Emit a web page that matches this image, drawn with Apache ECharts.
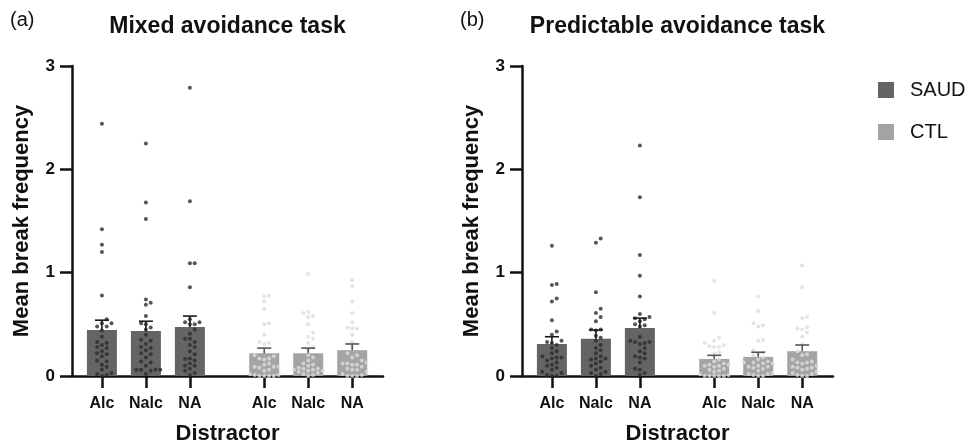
<!DOCTYPE html>
<html>
<head>
<meta charset="utf-8">
<title>Mean break frequency by distractor</title>
<script src="https://cdn.jsdelivr.net/npm/echarts@6/dist/echarts.min.js"></script>
<style>
  html, body { margin: 0; padding: 0; background: #ffffff; }
  #chart { width: 971px; height: 447px; }
</style>
</head>
<body>
<div id="chart"></div>
<script>
// ---- data ----
const distractors = ['Alc', 'Nalc', 'NA'];
const groups = ['SAUD', 'CTL'];
const panelTags = ['(a)', '(b)'];
const panelTitles = ['Mixed avoidance task', 'Predictable avoidance task'];
const yTicks = [0, 1, 2, 3];

// group means and SEM (Alc, Nalc, NA)
const mixedSaudMean = [0.445, 0.435, 0.475];
const mixedSaudSem  = [0.095, 0.095, 0.105];
const mixedCtlMean  = [0.22, 0.22, 0.25];
const mixedCtlSem   = [0.05, 0.05, 0.06];
const predSaudMean  = [0.31, 0.36, 0.465];
const predSaudSem   = [0.07, 0.085, 0.095];
const predCtlMean   = [0.165, 0.185, 0.24];
const predCtlSem    = [0.035, 0.045, 0.06];

// individual participants
const mixedSaudAlc  = [2.44, 1.42, 1.27, 1.20, 0.78, 0.55, 0.51, 0.51, 0.48, 0.48, 0.44, 0.38, 0.33, 0.32, 0.30, 0.28, 0.27, 0.24, 0.22, 0.21, 0.19, 0.15, 0.14, 0.11, 0.09, 0.06, 0.03, 0.02, 0.01, 0.00];
const mixedSaudNalc = [2.25, 1.68, 1.52, 0.74, 0.71, 0.69, 0.58, 0.51, 0.50, 0.47, 0.45, 0.40, 0.35, 0.34, 0.31, 0.28, 0.27, 0.25, 0.22, 0.21, 0.18, 0.14, 0.13, 0.10, 0.06, 0.06, 0.05, 0.06, 0.06, 0.02];
const mixedSaudNA   = [2.79, 1.69, 1.09, 1.09, 0.86, 0.55, 0.52, 0.52, 0.50, 0.50, 0.45, 0.41, 0.36, 0.36, 0.33, 0.30, 0.28, 0.24, 0.21, 0.17, 0.165, 0.15, 0.12, 0.10, 0.10, 0.07, 0.05, 0.03, 0.01];
const mixedCtlAlc   = [0.78, 0.77, 0.72, 0.65, 0.51, 0.50, 0.40, 0.33, 0.32, 0.31, 0.20, 0.19, 0.17, 0.17, 0.16, 0.12, 0.11, 0.09, 0.09, 0.09, 0.08, 0.06, 0.05, 0.02, 0.01, 0.01, 0.00, 0.00, 0.00, 0.00];
const mixedCtlNalc  = [0.99, 0.62, 0.61, 0.58, 0.57, 0.50, 0.42, 0.38, 0.36, 0.32, 0.28, 0.25, 0.20, 0.18, 0.15, 0.12, 0.11, 0.10, 0.08, 0.07, 0.07, 0.06, 0.06, 0.05, 0.05, 0.04, 0.03, 0.02, 0.01, 0.00];
const mixedCtlNA    = [0.93, 0.87, 0.72, 0.61, 0.52, 0.47, 0.46, 0.46, 0.40, 0.33, 0.28, 0.22, 0.20, 0.18, 0.15, 0.13, 0.12, 0.12, 0.11, 0.11, 0.09, 0.07, 0.06, 0.06, 0.04, 0.02, 0.01, 0.00, 0.00, 0.00];
const predSaudAlc   = [1.26, 0.89, 0.88, 0.75, 0.72, 0.54, 0.43, 0.40, 0.34, 0.33, 0.32, 0.30, 0.27, 0.24, 0.22, 0.19, 0.18, 0.18, 0.17, 0.15, 0.13, 0.11, 0.10, 0.08, 0.06, 0.04, 0.03, 0.01, 0.00, 0.00];
const predSaudNalc  = [1.33, 1.29, 0.81, 0.65, 0.61, 0.57, 0.53, 0.45, 0.45, 0.44, 0.39, 0.37, 0.34, 0.30, 0.27, 0.25, 0.22, 0.19, 0.17, 0.17, 0.16, 0.14, 0.12, 0.10, 0.08, 0.06, 0.04, 0.03, 0.02, 0.00];
const predSaudNA    = [2.23, 1.73, 1.17, 0.97, 0.77, 0.60, 0.57, 0.56, 0.55, 0.53, 0.50, 0.49, 0.48, 0.38, 0.34, 0.33, 0.33, 0.32, 0.31, 0.27, 0.24, 0.22, 0.19, 0.18, 0.17, 0.13, 0.07, 0.06, 0.03, 0.01];
const predCtlAlc    = [0.92, 0.61, 0.37, 0.34, 0.32, 0.30, 0.29, 0.28, 0.28, 0.23, 0.22, 0.16, 0.14, 0.12, 0.11, 0.11, 0.10, 0.10, 0.09, 0.07, 0.06, 0.05, 0.04, 0.02, 0.01, 0.00, 0.00, 0.00, 0.00, 0.00];
const predCtlNalc   = [0.77, 0.63, 0.51, 0.49, 0.48, 0.35, 0.34, 0.25, 0.23, 0.21, 0.20, 0.18, 0.16, 0.14, 0.13, 0.13, 0.12, 0.12, 0.10, 0.09, 0.09, 0.08, 0.07, 0.05, 0.03, 0.02, 0.02, 0.01, 0.00, 0.00];
const predCtlNA     = [1.07, 0.86, 0.57, 0.56, 0.47, 0.46, 0.45, 0.42, 0.38, 0.31, 0.24, 0.21, 0.20, 0.16, 0.14, 0.13, 0.13, 0.12, 0.10, 0.09, 0.08, 0.08, 0.07, 0.06, 0.04, 0.03, 0.02, 0.01, 0.00, 0.00];

// ---- layout / style ----
const FONT = '"Liberation Sans", Arial, sans-serif';
const INK = '#111111';
const GRID_W = 311, GRID_H = 310, GRID_TOP = 66;
const GRID_LEFTS = [72, 522];
const X_MAX = 7.07;                   // x-axis extent in slot units
const GROUP_START = [0.68, 4.37];     // centre of first bar in each group
const BAR_W = 30;
const DOT_SIZE = 4, DOT_STEP = 4.8, MAX_STEPS = 3;
const BAR_COLORS = { SAUD: '#646464', CTL: '#a4a4a4' };
const DOT_COLORS = { SAUD: '#2c2c2c', CTL: '#dcdcdc' };
const ERR_COLORS = { SAUD: '#1a1a1a', CTL: '#555555' };

const panels = [
  {
    SAUD: { mean: mixedSaudMean, sem: mixedSaudSem, pts: [mixedSaudAlc, mixedSaudNalc, mixedSaudNA] },
    CTL:  { mean: mixedCtlMean,  sem: mixedCtlSem,  pts: [mixedCtlAlc,  mixedCtlNalc,  mixedCtlNA] }
  },
  {
    SAUD: { mean: predSaudMean, sem: predSaudSem, pts: [predSaudAlc, predSaudNalc, predSaudNA] },
    CTL:  { mean: predCtlMean,  sem: predCtlSem,  pts: [predCtlAlc,  predCtlNalc,  predCtlNA] }
  }
];

const pxPerX = GRID_W / X_MAX;
const pxPerY = GRID_H / (yTicks[yTicks.length - 1] - yTicks[0]);

function slotX(groupIdx, catIdx) { return GROUP_START[groupIdx] + catIdx; }
const tickPositions = [];
const tickLabels = {};
groups.forEach((g, gi) => distractors.forEach((d, ci) => {
  const x = slotX(gi, ci);
  tickPositions.push(x);
  tickLabels[x.toFixed(3)] = d;
}));

// Spread points that would overlap sideways around the column centre,
// keeping them within the width of the bar.
function swarm(values, cx) {
  const placed = [];
  const out = new Array(values.length);
  const order = values.map((v, i) => i).sort((a, b) => values[a] - values[b]);
  order.forEach(i => {
    const y = values[i] * pxPerY;
    let best = 0, bestGap = -1;
    for (let k = 0; k <= MAX_STEPS * 2; k++) {
      const off = (k % 2 ? 1 : -1) * Math.ceil(k / 2) * DOT_STEP;
      const gap = placed.reduce((mn, p) => Math.min(mn, Math.hypot(p[0] - off, p[1] - y)), Infinity);
      if (gap >= DOT_STEP) { best = off; bestGap = gap; break; }
      if (gap > bestGap) { best = off; bestGap = gap; }
    }
    placed.push([best, y]);
    out[i] = [cx + best / pxPerX, values[i]];
  });
  return out;
}

function errorRenderer(color) {
  return function (params, api) {
    const x = api.value(0), m = api.value(1), s = api.value(2);
    const p0 = api.coord([x, m]);
    const p1 = api.coord([x, m + s]);
    const style = { stroke: color, lineWidth: 1.6 };
    return {
      type: 'group',
      children: [
        { type: 'line', shape: { x1: p0[0], y1: p0[1], x2: p1[0], y2: p1[1] }, style },
        { type: 'line', shape: { x1: p1[0] - 7, y1: p1[1], x2: p1[0] + 7, y2: p1[1] }, style }
      ]
    };
  };
}

const grid = [], xAxis = [], yAxis = [], series = [], title = [];

panels.forEach((panel, p) => {
  grid.push({
    left: GRID_LEFTS[p], top: GRID_TOP, width: GRID_W, height: GRID_H,
    containLabel: false, outerBoundsMode: 'none'
  });

  xAxis.push({
    gridIndex: p, type: 'value', min: 0, max: X_MAX,
    splitLine: { show: false },
    axisLine: { show: true, lineStyle: { color: INK, width: 2.5 } },
    axisTick: { show: true, customValues: tickPositions, length: 12, lineStyle: { color: INK, width: 2.5 } },
    axisLabel: {
      customValues: tickPositions, margin: 20,
      formatter: v => tickLabels[Number(v).toFixed(3)] || '',
      color: INK, fontFamily: FONT, fontSize: 16, fontWeight: 'bold'
    },
    name: 'Distractor', nameLocation: 'middle', nameGap: 47,
    nameTextStyle: { color: INK, fontFamily: FONT, fontSize: 22, fontWeight: 'bold' }
  });

  yAxis.push({
    gridIndex: p, type: 'value', min: yTicks[0], max: yTicks[yTicks.length - 1], interval: 1,
    splitLine: { show: false },
    axisLine: { show: true, lineStyle: { color: INK, width: 2.5 } },
    axisTick: { show: true, length: 12, lineStyle: { color: INK, width: 2.5 } },
    axisLabel: { margin: 17, color: INK, fontFamily: FONT, fontSize: 17, fontWeight: 'bold' },
    name: 'Mean break frequency', nameLocation: 'middle', nameGap: 39,
    nameTextStyle: { color: INK, fontFamily: FONT, fontSize: 22, fontWeight: 'bold' }
  });

  title.push({
    text: panelTags[p], left: GRID_LEFTS[p] - 62, top: 10, padding: 0,
    textStyle: { color: INK, fontFamily: FONT, fontSize: 20, fontWeight: 'normal' }
  });
  title.push({
    text: panelTitles[p], left: GRID_LEFTS[p] + GRID_W / 2, textAlign: 'center', top: 15, padding: 0,
    textStyle: { color: INK, fontFamily: FONT, fontSize: 23, fontWeight: 'bold' }
  });

  groups.forEach((g, gi) => {
    const d = panel[g];
    series.push({
      type: 'bar', name: g, xAxisIndex: p, yAxisIndex: p,
      barWidth: BAR_W, barGap: '-100%', silent: true, z: 2,
      itemStyle: { color: BAR_COLORS[g] },
      data: d.mean.map((m, ci) => [slotX(gi, ci), m])
    });
    d.pts.forEach((vals, ci) => {
      series.push({
        type: 'scatter', xAxisIndex: p, yAxisIndex: p, silent: true, z: 3,
        symbol: 'circle', symbolSize: DOT_SIZE,
        itemStyle: { color: DOT_COLORS[g] },
        data: swarm(vals, slotX(gi, ci))
      });
    });
    series.push({
      type: 'custom', xAxisIndex: p, yAxisIndex: p, silent: true, z: 4,
      renderItem: errorRenderer(ERR_COLORS[g]),
      encode: { x: 0, y: 1 },
      data: d.mean.map((m, ci) => [slotX(gi, ci), m, d.sem[ci]])
    });
  });
});

const option = {
  backgroundColor: '#ffffff',
  animation: false,
  title,
  legend: {
    data: groups, orient: 'vertical', left: 873, top: 75,
    icon: 'rect', itemWidth: 16, itemHeight: 16, itemGap: 22,
    textStyle: { color: INK, fontFamily: FONT, fontSize: 20, padding: [0, 0, 0, 11] }
  },
  grid, xAxis, yAxis, series
};

const chart = echarts.init(document.getElementById('chart'), null, { renderer: 'canvas' });
chart.setOption(option);
</script>
</body>
</html>
